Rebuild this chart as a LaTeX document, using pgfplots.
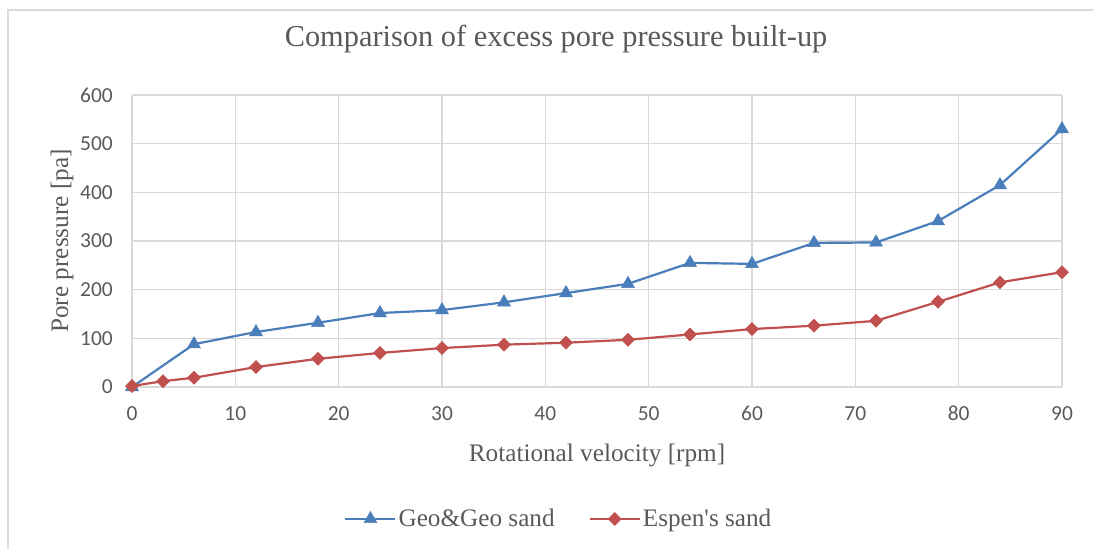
\documentclass[border=0pt]{standalone}
\usepackage{pgfplots}
\pgfplotsset{compat=1.18}
\usepackage{fontspec}
\setmainfont{Liberation Serif}
\newfontfamily\rawserif{Liberation Serif}
\newfontfamily\carlito{Carlito}
\definecolor{txtgray}{HTML}{595959}
\definecolor{gridgray}{HTML}{D9D9D9}
\definecolor{frameGray}{HTML}{D9D9D9}
\definecolor{sblue}{HTML}{4A7EBB}
\definecolor{sred}{HTML}{C0504D}
\begin{document}
\begin{tikzpicture}
\useasboundingbox (-132bp,-162bp) rectangle (961bp,387bp);
\draw[frameGray, line width=2bp] (-124bp,-162bp) -- (-124bp,377bp) -- (961bp,377bp);
\begin{axis}[
  at={(0bp,0bp)}, anchor=south west,
  width=930bp, height=292bp, scale only axis,
  xmin=0, xmax=90, ymin=0, ymax=600,
  xtick={0,10,...,90}, ytick={0,100,...,600},
  major tick length=0pt,
  axis line style={draw=none},
  grid=major,
  major grid style={gridgray, line width=1.5bp},
  clip=false,
  /pgf/number format/assume math mode=true,
  ticklabel style={font=\carlito\fontsize{21.5}{21.5}\selectfont, text=txtgray, inner sep=0pt},
  yticklabel style={anchor=east, xshift=-19bp},
  xticklabel style={anchor=north, yshift=-19bp},
  title={Comparison of excess pore pressure built-up},
  title style={at={(0.456,1.171)}, anchor=center, font=\fontsize{30.5}{30.5}\selectfont, text=txtgray},
  xlabel={Rotational velocity [rpm]},
  xlabel style={at={(0.5,-0.233)}, anchor=center, font=\fontsize{25.3}{25.3}\selectfont, text=txtgray},
  ylabel={Pore pressure [pa]},
  ylabel style={at={(-0.0753,0.5)}, anchor=center, rotate=0, font=\fontsize{25.3}{25.3}\selectfont, text=txtgray},
  legend columns=2,
  legend style={at={(0.459,-0.452)}, anchor=center, draw=none, fill=none,
    font=\fontsize{25.3}{25.3}\selectfont, text=txtgray,
    nodes={inner sep=2bp},
    /tikz/every even column/.append style={column sep=32bp}},
  legend cell align=left,
  legend image code/.code={\draw[mark repeat=2,mark phase=2,#1] plot coordinates {(0bp,0bp) (25bp,0bp) (50bp,0bp)};},
]
\addplot[sblue, line width=2.2bp, mark=triangle*, mark size=7.5bp, mark options={solid, fill=sblue, draw=sblue, line width=0.5bp}] coordinates {
(0,0)(6,88)(12,113)(18,132)(24,152)(30,158)(36,174)(42,193)(48,212)(54,255)(60,253)(66,296)(72,297)(78,341)(84,415)(90,530)};
\addlegendentry{Geo\&Geo sand}
\addplot[sred, line width=2.2bp, mark=square*, mark size=4.6bp, mark options={solid, rotate=45, fill=sred, draw=sred, line width=0.5bp}] coordinates {
(0,2)(3,12)(6,19)(12,41)(18,58)(24,70)(30,80)(36,87)(42,91)(48,97)(54,108)(60,119)(66,126)(72,136)(78,175)(84,215)(90,236)};
\addlegendentry{{\rawserif Espen's sand}}
\end{axis}
\end{tikzpicture}
\end{document}
